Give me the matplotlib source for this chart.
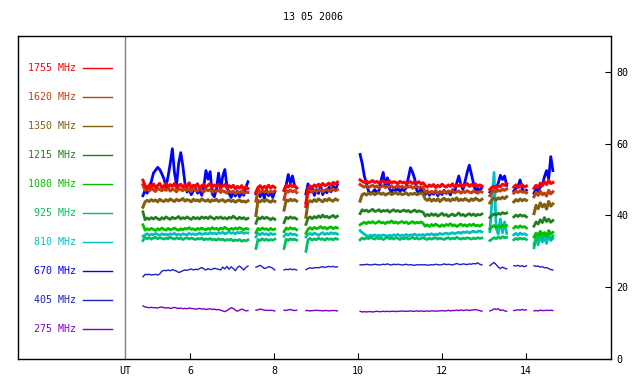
import numpy as np
import matplotlib.pyplot as plt
from matplotlib.lines import Line2D

plt.rcParams['font.family'] = 'DejaVu Sans Mono'
plt.rcParams['font.size'] = 7.2

# start of each observing segment (UT hours), sampling step in hours
seg_start = [4.88, 7.57, 8.24, 8.76, 10.05, 13.14, 13.71, 14.19]
step = 0.05

f1755 = [
    [49.8, 48.3, 47.6, 48.5, 47.9, 48.8, 47.7, 48.4, 48.9, 47.8, 48.2, 49.0, 47.9, 48.6, 48.1, 48.9, 47.7,
     48.3, 48.7, 47.9, 48.5, 48.0, 49.1, 47.8, 48.4, 48.2, 48.8, 47.6, 48.3, 48.6, 47.9, 48.4, 48.9, 47.8,
     48.5, 48.1, 48.7, 47.7, 48.2, 48.6, 47.5, 48.3, 47.8, 48.4, 47.4, 48.1, 47.6, 48.3, 47.3, 48.0, 47.5],
    [46.5, 47.8, 48.3, 47.5, 48.1, 47.7, 48.4, 47.6, 48.2, 47.8],
    [47.0, 48.4, 47.9, 48.6, 48.0, 48.3, 47.7],
    [42.5, 47.6, 48.2, 47.8, 48.5, 48.0, 48.7, 48.2, 48.9, 48.3, 48.6, 49.0, 48.4, 49.2, 48.8, 49.3],
    [49.9, 49.5, 49.2, 49.6, 49.1, 49.4, 49.7, 49.2, 49.5, 49.0, 49.4, 49.6, 49.1, 49.3, 49.7, 49.0, 49.4,
     49.2, 48.9, 49.5, 49.1, 49.3, 48.8, 49.2, 49.4, 48.9, 49.3, 49.0, 49.4, 48.8, 49.1, 48.3, 47.9, 48.5,
     48.1, 48.6, 47.8, 48.4, 48.0, 48.7, 48.2, 47.9, 48.5, 48.1, 48.8, 47.9, 48.4, 48.2, 48.7, 48.0, 48.5,
     48.9, 48.1, 48.6, 48.3, 48.8, 48.0, 48.5, 48.2],
    [47.2, 47.8, 48.1, 47.6, 48.3, 48.0, 48.7, 48.4, 48.9],
    [47.9, 48.5, 47.8, 48.3, 48.6, 47.9, 48.2],
    [47.6, 48.4, 47.8, 49.0, 48.3, 49.4, 48.6, 49.8, 48.9, 49.2],
]

f1620 = [
    [48.5, 47.0, 47.4, 46.8, 47.5, 47.1, 46.7, 47.6, 47.2, 46.9, 47.4, 47.0, 47.7, 46.8, 47.3, 47.1, 46.6,
     47.5, 47.2, 46.9, 47.6, 47.0, 47.3, 46.7, 47.4, 47.1, 46.8, 47.5, 47.0, 46.6, 47.3, 46.9, 47.2, 46.5,
     47.0, 46.7, 47.1, 46.4, 46.9, 46.6, 46.2, 46.8, 46.4, 46.7, 46.1, 46.6, 46.3, 46.8, 46.2, 46.5, 46.4],
    [44.0, 46.8, 46.4, 47.0, 46.5, 46.9, 46.3, 46.7, 46.5, 46.8],
    [44.5, 46.9, 46.5, 47.1, 46.6, 46.9, 46.4],
    [43.5, 46.6, 47.0, 46.5, 47.1, 46.7, 46.9, 47.2, 46.6, 47.0, 47.3, 46.8, 47.1, 47.4, 46.9, 47.2],
    [48.6, 48.2, 47.9, 48.3, 47.8, 48.1, 48.4, 47.9, 48.2, 47.7, 48.0, 48.3, 47.8, 48.1, 47.9, 48.2, 47.6,
     48.0, 48.3, 47.8, 48.1, 47.7, 48.0, 47.9, 48.2, 47.6, 47.9, 48.1, 47.7, 48.0, 47.8, 46.4, 46.8, 46.2,
     46.7, 46.3, 46.9, 46.1, 46.6, 46.4, 46.8, 46.2, 46.7, 46.5, 46.9, 46.3, 46.6, 46.8, 46.2, 46.7, 46.4,
     46.9, 46.5, 46.3, 46.8, 46.6, 46.2, 46.7, 46.5],
    [45.5, 46.5, 46.9, 46.6, 47.0, 46.8, 47.3, 47.0, 47.4],
    [46.2, 46.8, 46.4, 46.9, 46.5, 46.7, 46.3],
    [45.2, 46.4, 45.6, 46.8, 45.8, 46.2, 45.4, 47.0, 46.0, 46.6],
]

f1350 = [
    [42.3, 43.8, 44.2, 43.9, 44.4, 44.0, 44.3, 43.8, 44.5, 44.1, 43.9, 44.4, 44.0, 44.6, 44.2, 43.9, 44.5,
     44.1, 44.3, 44.7, 44.0, 44.4, 44.2, 43.8, 44.5, 44.1, 44.3, 43.9, 44.6, 44.2, 44.0, 44.4, 43.8, 44.3,
     44.1, 44.5, 43.9, 44.2, 44.4, 43.8, 44.1, 44.3, 43.9, 44.2, 43.7, 44.1, 44.3, 43.8, 44.0, 43.7, 44.1],
    [40.0, 44.2, 43.8, 44.3, 43.9, 44.4, 44.0, 43.7, 44.2, 43.9],
    [41.5, 44.3, 44.0, 44.5, 44.1, 44.4, 44.0],
    [39.5, 43.6, 44.1, 43.8, 44.4, 43.9, 44.6, 44.2, 43.8, 44.5, 44.1, 44.7, 44.2, 44.0, 44.6, 44.3],
    [44.0, 45.8, 46.1, 45.7, 46.2, 45.9, 46.3, 45.8, 46.1, 46.4, 45.9, 46.2, 45.7, 46.0, 46.3, 45.8, 46.1,
     46.4, 45.9, 46.2, 45.8, 46.0, 46.3, 45.7, 46.1, 45.9, 46.2, 45.8, 46.0, 46.3, 45.9, 44.6, 44.2, 44.7,
     44.0, 44.5, 44.1, 44.6, 43.9, 44.4, 44.8, 44.2, 44.5, 44.0, 44.6, 44.3, 44.9, 44.1, 44.5, 44.2, 44.7,
     44.3, 44.0, 44.6, 44.2, 44.8, 44.4, 44.1, 44.5],
    [43.5, 44.4, 44.8, 44.3, 44.9, 44.6, 45.1, 44.7, 45.2],
    [43.8, 44.4, 44.0, 44.6, 44.1, 44.5, 44.2],
    [40.5, 42.8, 41.9, 43.5, 42.4, 43.1, 41.8, 43.9, 42.6, 43.2],
]

f1215 = [
    [41.0, 38.8, 39.3, 38.9, 39.4, 39.0, 39.5, 39.1, 38.8, 39.4, 39.0, 39.6, 39.2, 38.9, 39.5, 39.1, 39.3,
     39.7, 39.0, 39.4, 39.1, 39.6, 39.2, 38.9, 39.5, 39.1, 39.4, 39.0, 39.6, 39.2, 39.5, 39.1, 39.7, 39.3,
     39.0, 39.5, 39.2, 39.6, 39.1, 39.4, 39.0, 39.5, 39.2, 39.8, 39.3, 39.0, 39.5, 39.1, 39.4, 38.9, 39.2],
    [37.8, 39.4, 39.0, 39.6, 39.1, 39.5, 39.2, 38.8, 39.3, 38.9],
    [38.0, 39.5, 39.1, 39.6, 39.2, 39.4, 39.0],
    [37.5, 39.2, 39.6, 39.1, 39.7, 39.3, 39.9, 39.4, 40.1, 39.5, 39.8, 39.3, 39.7, 40.0, 39.4, 39.8],
    [40.5, 41.6, 41.2, 41.5, 41.0, 41.4, 41.7, 41.1, 41.3, 41.6, 41.0, 41.4, 41.2, 41.5, 40.9, 41.3, 41.6,
     41.1, 41.4, 41.0, 41.3, 41.5, 41.1, 41.4, 40.9, 41.2, 41.5, 41.0, 41.3, 41.1, 40.9, 39.8, 40.3, 39.9,
     40.5, 40.0, 40.4, 39.8, 40.2, 40.6, 40.0, 40.3, 39.7, 40.1, 40.4, 39.9, 40.2, 40.7, 40.0, 40.3, 39.8,
     40.2, 40.5, 40.0, 40.4, 39.9, 40.3, 40.1, 40.4],
    [39.4, 40.0, 40.4, 40.1, 40.6, 40.3, 40.8, 40.5, 40.7],
    [39.6, 40.1, 39.7, 40.2, 39.8, 40.0, 39.6],
    [37.0, 38.2, 37.6, 38.8, 38.0, 39.4, 38.3, 39.0, 38.1, 38.6],
]

f1080 = [
    [37.4, 35.9, 36.3, 36.0, 36.4, 36.1, 35.8, 36.3, 36.0, 36.5, 36.1, 35.9, 36.4, 36.0, 36.2, 36.5, 36.1,
     35.9, 36.3, 36.0, 36.4, 36.2, 36.6, 36.1, 36.3, 35.9, 36.4, 36.1, 36.5, 36.2, 36.0, 36.4, 36.1, 36.6,
     36.2, 36.4, 36.0, 36.5, 36.2, 36.7, 36.3, 36.0, 36.4, 36.1, 36.5, 36.2, 36.6, 36.3, 36.0, 36.4, 36.2],
    [35.2, 36.4, 36.0, 36.5, 36.1, 36.3, 35.9, 36.4, 36.0, 36.2],
    [35.5, 36.5, 36.1, 36.6, 36.2, 36.4, 36.0],
    [35.0, 36.2, 36.6, 36.1, 36.7, 36.3, 36.5, 36.9, 36.4, 36.7, 36.2, 36.6, 36.8, 36.3, 36.7, 36.5],
    [37.4, 37.8, 38.1, 37.7, 38.2, 37.9, 38.3, 37.8, 38.0, 38.4, 37.9, 38.1, 37.7, 38.2, 38.0, 38.5, 37.9,
     38.2, 37.8, 38.1, 38.3, 37.9, 38.2, 37.7, 38.0, 38.3, 37.8, 38.1, 37.9, 38.2, 37.8, 37.0, 37.4, 36.9,
     37.5, 37.1, 37.6, 37.2, 36.9, 37.4, 37.0, 37.5, 37.2, 37.7, 37.1, 37.4, 36.9, 37.3, 37.6, 37.1, 37.4,
     37.0, 37.5, 37.2, 37.6, 37.1, 37.3, 37.0, 37.4],
    [36.2, 36.8, 37.2, 36.6, 37.1, 36.7, 37.3, 36.9, 37.2],
    [36.5, 37.0, 36.6, 37.1, 36.7, 36.9, 36.5],
    [34.0, 35.1, 34.4, 35.6, 34.7, 35.2, 34.3, 35.8, 34.9, 35.3],
]

f925 = [
    [33.0, 33.9, 33.5, 33.8, 33.4, 33.7, 33.9, 33.5, 33.8, 33.6, 33.4, 33.7, 33.5, 33.9, 33.6, 33.4, 33.8,
     33.5, 33.7, 33.3, 33.6, 33.8, 33.4, 33.7, 33.5, 33.3, 33.6, 33.4, 33.7, 33.2, 33.5, 33.3, 33.6, 33.2,
     33.4, 33.1, 33.5, 33.2, 33.4, 33.0, 33.3, 33.1, 33.4, 32.9, 33.2, 33.0, 33.3, 32.8, 33.1, 32.9, 33.2],
    [30.8, 33.3, 33.0, 33.5, 33.1, 33.4, 33.0, 33.3, 33.1, 33.4],
    [30.8, 33.4, 33.0, 33.5, 33.2, 33.4, 33.1],
    [30.0, 33.2, 33.6, 33.1, 33.5, 33.2, 33.7, 33.3, 33.5, 33.1, 33.6, 33.3, 33.5, 33.2, 33.6, 33.4],
    [33.2, 33.7, 33.4, 33.8, 33.5, 33.9, 33.6, 33.4, 33.8, 33.5, 33.7, 33.3, 33.6, 33.9, 33.5, 33.7, 33.4,
     33.8, 33.6, 33.3, 33.7, 33.5, 33.8, 33.4, 33.6, 33.9, 33.5, 33.7, 33.4, 33.6, 33.8, 33.5, 33.3, 33.7,
     33.4, 33.6, 33.8, 33.4, 33.7, 33.5, 33.3, 33.6, 33.8, 33.4, 33.7, 33.5, 33.9, 33.6, 33.4, 33.7, 33.5,
     33.8, 33.6, 33.4, 33.7, 33.5, 33.8, 33.6, 33.7],
    [33.0, 33.4, 33.8, 33.5, 34.0, 33.6, 34.1, 33.8, 33.9],
    [33.2, 33.6, 33.3, 33.7, 33.4, 33.6, 33.3],
    [31.0, 34.0, 33.2, 34.8, 33.6, 35.2, 33.9, 34.6, 33.4, 34.3],
]

f810 = [
    [34.2, 34.6, 34.9, 34.5, 34.8, 34.6, 35.0, 34.7, 34.5, 34.9, 34.6, 34.8, 34.5, 34.9, 34.7, 35.0, 34.6,
     34.8, 34.5, 34.9, 34.7, 34.6, 35.0, 34.7, 34.9, 34.6, 34.8, 35.1, 34.7, 34.9, 35.0, 34.8, 35.2, 34.9,
     35.1, 34.8, 35.2, 35.0, 35.3, 34.9, 35.1, 35.4, 35.0, 35.2, 34.9, 35.3, 35.1, 35.4, 35.0, 35.2, 35.1],
    [34.0, 35.0, 34.6, 35.1, 34.7, 34.9, 34.5, 35.0, 34.7, 34.8],
    [34.2, 34.9, 34.5, 35.0, 34.6, 34.8, 34.5],
    [34.0, 34.7, 35.0, 34.6, 35.1, 34.8, 34.5, 34.9, 35.2, 34.7, 35.0, 34.8, 35.2, 34.9, 35.1, 34.8],
    [35.8, 35.2, 34.8, 34.4, 34.2, 34.5, 34.3, 34.6, 34.2, 34.5, 34.3, 34.6, 34.4, 34.2, 34.5, 34.3, 34.6,
     34.4, 34.7, 34.3, 34.5, 34.4, 34.7, 34.3, 34.6, 34.5, 34.8, 34.4, 34.6, 34.5, 34.7, 34.4, 34.8, 34.6,
     34.9, 34.5, 34.8, 34.6, 35.0, 34.7, 34.9, 35.1, 34.8, 35.0, 35.2, 34.9, 35.1, 35.3, 35.0, 35.4, 35.2,
     35.5, 35.1, 35.4, 35.6, 35.3, 35.5, 35.7, 35.4],
    [35.5, 44.0, 52.0, 36.5, 34.8, 39.0, 35.2, 38.2, 35.0],
    [34.6, 35.0, 34.5, 35.1, 34.7, 34.9, 34.6],
    [32.0, 33.5, 31.8, 34.2, 32.6, 33.8, 32.2, 34.6, 33.0, 33.6],
]

f670 = [
    [45.5, 47.0, 46.2, 48.0, 49.5, 51.8, 52.6, 53.4, 52.8, 51.6, 50.2, 48.0, 51.0, 54.5, 58.6, 52.0, 48.5,
     54.5, 57.5, 53.8, 49.0, 46.5, 47.4, 45.8, 46.9, 47.6, 46.2, 47.1, 45.6, 48.2, 52.5, 50.1, 52.2, 46.0,
     45.2, 47.3, 51.8, 47.5, 51.0, 52.8, 48.0, 46.1, 45.0, 46.6, 45.4, 46.8, 45.2, 46.3, 45.6, 47.8, 49.4],
    [46.0, 47.5, 45.2, 46.8, 44.8, 47.2, 45.5, 46.4, 45.0, 46.6],
    [47.0, 48.5, 51.4, 49.0, 51.0, 48.2, 47.6],
    [46.0, 48.8, 46.5, 47.8, 45.6, 47.2, 46.1, 48.4, 45.8, 47.0, 46.3, 47.9, 46.6, 48.2, 47.0, 48.6],
    [57.0, 54.5, 51.0, 49.0, 46.8, 46.0, 46.5, 47.2, 46.3, 47.0, 49.8, 52.0, 48.0, 50.5, 47.4, 46.5, 47.6,
     46.8, 47.5, 46.7, 47.3, 46.9, 47.8, 50.5, 53.3, 52.0, 50.2, 47.0, 46.2, 47.4, 46.5, 45.8, 46.9, 45.6,
     46.4, 45.9, 46.8, 45.5, 46.6, 45.8, 47.0, 46.1, 46.8, 45.7, 47.2, 46.4, 49.0, 51.0, 48.5, 47.2, 49.5,
     52.0, 54.0, 51.5, 49.0, 46.5, 47.6, 46.9, 47.8],
    [46.5, 47.8, 48.3, 47.5, 49.0, 51.2, 50.0, 51.0, 48.4],
    [46.8, 47.5, 48.2, 49.9, 47.4, 46.5, 47.0],
    [46.2, 47.5, 46.8, 47.9, 48.5, 50.8, 52.5, 50.2, 56.4, 52.5],
]

f405 = [
    [22.9, 23.6, 23.5, 23.6, 23.4, 23.5, 23.6, 23.4, 23.7, 24.5, 24.7, 24.6, 24.8, 24.6, 24.9, 24.7, 24.5,
     24.1, 24.3, 24.6, 24.8, 24.7, 24.9, 25.1, 24.8, 25.0, 24.9, 25.2, 25.5, 25.1, 24.8, 25.2, 24.9, 25.0,
     25.3, 25.1, 25.0, 24.8, 25.6, 25.1, 25.8, 25.0, 25.7, 25.2, 24.6, 25.5, 25.9, 25.4, 24.8, 25.5, 25.9],
    [25.6, 25.8, 26.1, 25.7, 25.2, 25.4, 25.7, 25.6, 25.3, 24.8],
    [24.8, 25.0, 24.9, 25.1, 24.9, 25.0, 24.8],
    [24.9, 25.2, 25.4, 25.3, 25.4, 25.5, 25.4, 25.6, 25.7, 25.5, 25.7, 25.8, 25.7, 25.8, 25.6, 25.7],
    [26.2, 26.3, 26.2, 26.4, 26.3, 26.2, 26.3, 26.4, 26.3, 26.2, 26.3, 26.4, 26.3, 26.5, 26.3, 26.2, 26.4,
     26.3, 26.4, 26.3, 26.2, 26.3, 26.4, 26.2, 26.3, 26.2, 26.1, 26.3, 26.2, 26.3, 26.2, 26.3, 26.1, 26.2,
     26.3, 26.2, 26.4, 26.3, 26.2, 26.3, 26.5, 26.3, 26.4, 26.3, 26.2, 26.4, 26.6, 26.4, 26.3, 26.5, 26.4,
     26.3, 26.5, 26.4, 26.6, 26.5, 26.8, 26.4, 26.2],
    [26.0, 26.5, 26.9, 26.3, 25.6, 25.2, 25.6, 25.3, 25.1],
    [26.0, 25.9, 26.1, 25.8, 26.0, 25.7, 26.0],
    [26.0, 25.8, 25.9, 25.6, 25.7, 25.4, 25.5, 25.2, 24.9, 24.8],
]

f275 = [
    [14.8, 14.5, 14.4, 14.3, 14.4, 14.3, 14.3, 14.2, 14.4, 14.5, 14.3, 14.2, 14.3, 14.1, 14.2, 14.4, 14.2,
     14.1, 14.2, 14.0, 14.1, 14.0, 14.2, 14.1, 14.0, 13.9, 14.0, 14.1, 13.9, 14.0, 13.8, 13.9, 14.0, 13.8,
     13.9, 13.7, 13.8, 13.6, 13.4, 13.2, 13.5, 13.9, 14.3, 14.1, 13.6, 13.3, 13.6, 13.9, 13.7, 13.4, 13.5],
    [13.6, 13.7, 13.9, 13.8, 13.6, 13.6, 13.5, 13.6, 13.5, 13.4],
    [13.6, 13.5, 13.7, 13.8, 13.6, 13.5, 13.6],
    [13.5, 13.5, 13.4, 13.5, 13.5, 13.6, 13.5, 13.5, 13.4, 13.5, 13.5, 13.4, 13.5, 13.5, 13.5, 13.4],
    [13.3, 13.1, 13.2, 13.1, 13.2, 13.2, 13.1, 13.2, 13.3, 13.2, 13.2, 13.3, 13.2, 13.3, 13.2, 13.3, 13.3,
     13.2, 13.3, 13.3, 13.4, 13.3, 13.3, 13.3, 13.4, 13.3, 13.3, 13.4, 13.3, 13.4, 13.3, 13.3, 13.4, 13.3,
     13.4, 13.4, 13.3, 13.4, 13.4, 13.5, 13.4, 13.4, 13.6, 13.4, 13.5, 13.5, 13.6, 13.5, 13.7, 13.5, 13.6,
     13.7, 13.5, 13.6, 13.7, 13.8, 13.6, 13.5, 13.3],
    [13.4, 13.6, 14.0, 13.8, 14.0, 13.5, 13.7, 13.4, 13.3],
    [13.5, 13.6, 13.7, 13.6, 13.8, 13.6, 13.7],
    [13.4, 13.5, 13.4, 13.6, 13.5, 13.5, 13.6, 13.5, 13.6, 13.5],
]

labels = ['1755 MHz', '1620 MHz', '1350 MHz', '1215 MHz', '1080 MHz',
          '925 MHz', '810 MHz', '670 MHz', '405 MHz', '275 MHz']
series = [f1755, f1620, f1350, f1215, f1080, f925, f810, f670, f405, f275]
colors = ['#ff0000', '#c04010', '#806010', '#208020', '#00c000',
          '#00c060', '#00c0c0', '#0000ff', '#2020c0', '#8000c0']
# the noisy channels look like thick bands in the original
widths = [2.2, 2.2, 2.2, 2.0, 2.0, 2.0, 2.0, 2.0, 1.0, 1.0]

W, H = 640, 384
fig = plt.figure(figsize=(W / 100, H / 100), dpi=100)
ax = fig.add_axes([18 / W, (H - 359) / H, (611 - 18) / W, (359 - 36) / H])
ax.set_xlim(1.905, 16.024)
ax.set_ylim(0, 90)


def seg_xy(data):
    xs, ys = [], []
    for t0, vals in zip(seg_start, data):
        xs += [t0 + step * i for i in range(len(vals))] + [np.nan]
        ys += list(vals) + [np.nan]
    return xs, ys


# lowest frequency first, so 1755 ends up on top
for data, c, lw in reversed(list(zip(series, colors, widths))):
    x, y = seg_xy(data)
    ax.plot(x, y, color=c, lw=lw)

# separator between legend block and data
ax.axvline(4.452, color='#808080', lw=1.0)

for s in ax.spines.values():
    s.set_color('black')
    s.set_linewidth(1.0)

ax.set_xticks([6, 8, 10, 12, 14])
ax.set_yticks([0, 20, 40, 60, 80])
ax.yaxis.tick_right()
ax.tick_params(axis='x', direction='in', length=4, pad=5, labelsize=7.2)
ax.tick_params(axis='y', direction='in', length=4, pad=4, labelsize=7.2)
ax.annotate('UT', xy=(4.452, 0), xycoords=('data', 'axes fraction'),
            xytext=(0, -5), textcoords='offset points', ha='center', va='top')

fig.text(313 / W, 1 - 17 / H, '13 05 2006', ha='center', va='center')

# legend block on the left
for k, (lab, c) in enumerate(zip(labels, colors)):
    yy = 1 - (68 + 29 * k) / H
    fig.text(76 / W, yy, lab, color=c, ha='right', va='center')
    fig.add_artist(Line2D([83 / W, 112 / W], [yy, yy], color=c, lw=1.0,
                          transform=fig.transFigure))

fig.savefig('out.png', dpi=100)
